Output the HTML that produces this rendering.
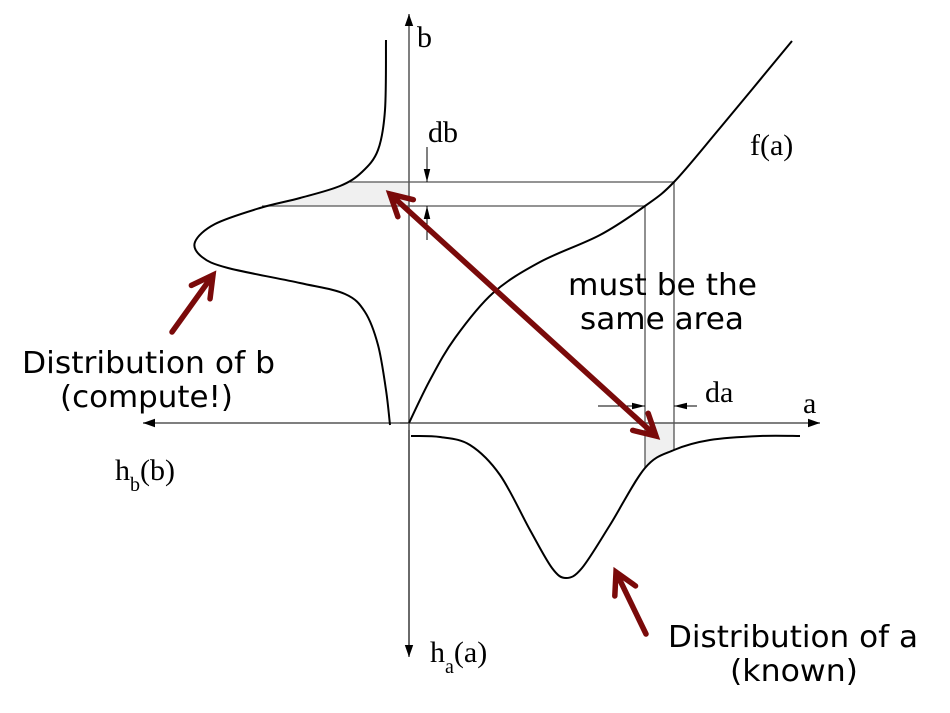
<!DOCTYPE html>
<html><head><meta charset="utf-8"><style>
html,body{margin:0;padding:0;background:#fff;}
svg{display:block;}
.ser{font-family:"Liberation Serif",serif;font-size:30px;fill:#000;}
.san{font-family:"DejaVu Sans","Liberation Sans",sans-serif;font-size:30px;fill:#000;}
</style></head><body>
<svg id="chart" width="950" height="713" viewBox="0 0 950 713">
<defs>
<marker id="ah" viewBox="0 0 10 10" refX="10" refY="5" markerWidth="12" markerHeight="12" markerUnits="userSpaceOnUse" orient="auto"><path d="M0,1.5 L10,5 L0,8.5 z" fill="#000"/></marker>
<marker id="sm" viewBox="0 0 10 10" refX="10" refY="5" markerWidth="13" markerHeight="13" markerUnits="userSpaceOnUse" orient="auto"><path d="M0,2.5 L10,5 L0,7.5 z" fill="#000"/></marker>
</defs>
<g id="shade"></g>
<g id="lines"></g>
<g id="curves"></g>
<g id="red"></g>
<text class="ser" x="417" y="47">b</text>
<text class="ser" x="428" y="142">db</text>
<text class="ser" x="750" y="155">f(a)</text>
<text class="san" x="568" y="295" textLength="189" lengthAdjust="spacingAndGlyphs">must be the</text>
<text class="san" x="580" y="329" textLength="164" lengthAdjust="spacingAndGlyphs">same area</text>
<text class="ser" x="705" y="402">da</text>
<text class="ser" x="803" y="413">a</text>
<text class="san" x="22" y="373" textLength="253" lengthAdjust="spacingAndGlyphs">Distribution of b</text>
<text class="san" x="60" y="407" textLength="173" lengthAdjust="spacingAndGlyphs">(compute!)</text>
<text class="ser" x="115" y="480">h<tspan font-size="20" dy="11">b</tspan><tspan dy="-11">(b)</tspan></text>
<text class="ser" x="430" y="662">h<tspan font-size="20" dy="11">a</tspan><tspan dy="-11">(a)</tspan></text>
<text class="san" x="668" y="647" textLength="250" lengthAdjust="spacingAndGlyphs">Distribution of a</text>
<text class="san" x="730" y="681" textLength="128" lengthAdjust="spacingAndGlyphs">(known)</text>
</svg>
<script>
const fCurve=[[409,423],[430,380],[455,338],[493,293],[540,262],[600,235],[645,206],[674,182],[720,128],[792,41]];
const haCurve=[[411,436],[440,437],[470,445],[500,475],[530,530],[552,568],[566,578],[582,568],[610,525],[645,468],[674,450],[710,440],[760,436],[800,436]];
const hbCurve=[[386,40],[385,110],[378,150],[362,172],[340,186],[300,198],[260,208],[215,224],[195,242],[202,257],[228,268],[300,283],[345,294],[365,312],[378,345],[386,390],[390,425]];
const NS="http://www.w3.org/2000/svg";
function pathD(p){let d="M"+p[0][0]+","+p[0][1];for(let i=1;i<p.length;i++){const p0=p[i-2]||p[i-1],p1=p[i-1],p2=p[i],p3=p[i+1]||p[i];d+=" C"+(p1[0]+(p2[0]-p0[0])/6)+","+(p1[1]+(p2[1]-p0[1])/6)+" "+(p2[0]-(p3[0]-p1[0])/6)+","+(p2[1]-(p3[1]-p1[1])/6)+" "+p2[0]+","+p2[1];}return d;}
function mk(tag,attrs,parent){const e=document.createElementNS(NS,tag);for(const k in attrs)e.setAttribute(k,attrs[k]);document.getElementById(parent).appendChild(e);return e;}
let s1=mk("path",{d:"M350,182 L409,182 L409,206 L262,206 C300,198 335,190 350,182 Z",fill:"#f0f0f0"},"shade");


let s2=mk("path",{d:"M645,423 L674,423 L674,450 C662,454 652,460 645,468 Z",fill:"#f0f0f0"},"shade");


const g="#555";
let ax=mk("line",{x1:409,y1:655,x2:409,y2:14,stroke:g,"stroke-width":1.5,"marker-end":"url(#ah)"},"lines");


let ax2=mk("line",{x1:409,y1:430,x2:409,y2:657,stroke:g,"stroke-width":1.5,"marker-end":"url(#ah)"},"lines");


let ax3=mk("line",{x1:400,y1:423,x2:820,y2:423,stroke:g,"stroke-width":1.5,"marker-end":"url(#ah)"},"lines");


let ax4=mk("line",{x1:409,y1:423,x2:143,y2:423,stroke:g,"stroke-width":1.5,"marker-end":"url(#ah)"},"lines");


const guides=[[350,182,674,182],[262,206,645,206],[645,206,645,468],[674,182,674,450]];
guides.forEach(q=>{let l=mk("line",{x1:q[0],y1:q[1],x2:q[2],y2:q[3],stroke:g,"stroke-width":1.3},"lines");

});
const smalls=[[427,147,427,182],[427,240,427,206],[598,406,645,406],[697,406,674,406]];
smalls.forEach(q=>{let l=mk("line",{x1:q[0],y1:q[1],x2:q[2],y2:q[3],stroke:"#000","stroke-width":1,"marker-end":"url(#sm)"},"lines");

});
[[fCurve,'f-of-a-curve'],[haCurve,'ha-distribution-curve'],[hbCurve,'hb-distribution-curve']].forEach(c=>{
let p=mk("path",{d:pathD(c[0]),fill:"none",stroke:"#000","stroke-width":2},"curves");

});
const red="#7a0a0a";
function redArrow(x1,y1,x2,y2,both,name){
 const a=Math.atan2(y2-y1,x2-x1),L=24,w=0.5;
 let d="M"+x1+","+y1+" L"+x2+","+y2;
 const head=(x,y,ang)=>" M"+(x-L*Math.cos(ang-w))+","+(y-L*Math.sin(ang-w))+" L"+x+","+y+" L"+(x-L*Math.cos(ang+w))+","+(y-L*Math.sin(ang+w));
 d+=head(x2,y2,a);if(both)d+=head(x1,y1,a+Math.PI);
 let p=mk("path",{d:d,fill:"none",stroke:red,"stroke-width":5.5,"stroke-linecap":"round","stroke-linejoin":"miter"},"red");
 
 
}
redArrow(390,194,656,436,true,'same-area-double-arrow');
redArrow(172,332,213,275,false,'distribution-b-pointer');
redArrow(646,634,616,572,false,'distribution-a-pointer');
</script>
</body></html>
